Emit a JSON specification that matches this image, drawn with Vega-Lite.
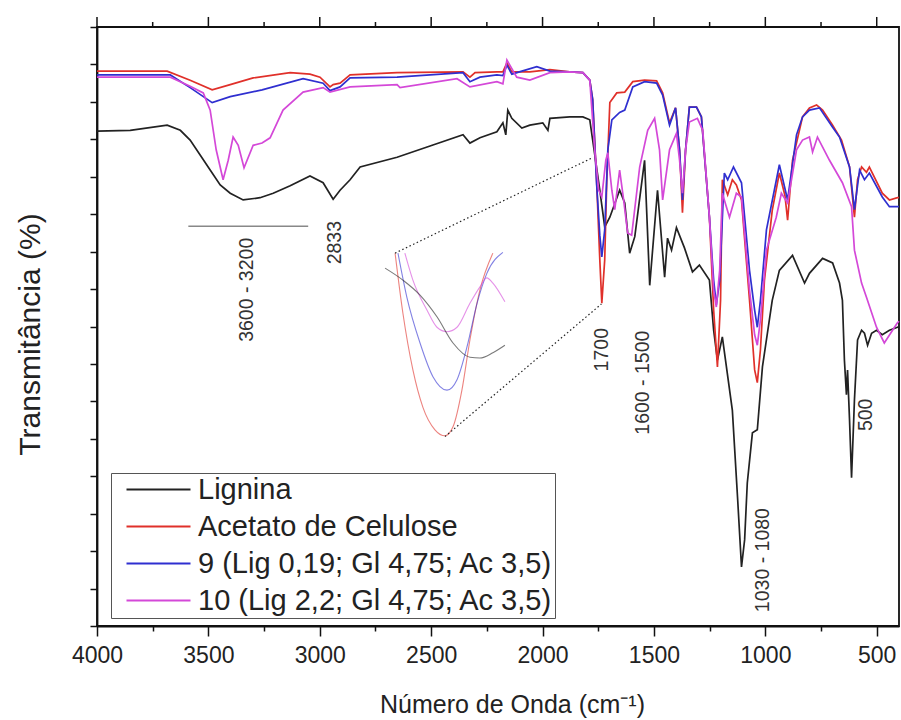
{
  "$schema": "https://vega.github.io/schema/vega-lite/v6.json",
  "width": 802,
  "height": 599,
  "autosize": {"type": "none"},
  "padding": {"left": 97, "top": 27, "right": 2, "bottom": 94},
  "background": "white",
  "config": {
    "font": "Liberation Sans",
    "view": {"stroke": "#111", "strokeWidth": 1.8},
    "axis": {"grid": false, "domainColor": "#111", "domainWidth": 1.8, "tickColor": "#111", "tickWidth": 1.5, "labelColor": "#222", "titleColor": "#222", "labelFont": "Liberation Sans", "titleFont": "Liberation Sans", "titleFontWeight": "normal"}
  },
  "datasets": {
    "lig": [
      {"w":4000,"t":66.1},{"w":3851,"t":66.2},{"w":3685,"t":66.9},{"w":3626,"t":66.2},{"w":3582,"t":64.9},{"w":3537,"t":62.9},{"w":3492,"t":60.9},{"w":3447,"t":58.9},{"w":3402,"t":57.8},{"w":3344,"t":56.9},{"w":3268,"t":57.2},{"w":3209,"t":57.8},{"w":3133,"t":58.8},{"w":3044,"t":60.1},{"w":2985,"t":59.2},{"w":2940,"t":57.0},{"w":2909,"t":58.2},{"w":2864,"t":59.6},{"w":2819,"t":61.3},{"w":2653,"t":62.6},{"w":2505,"t":64.1},{"w":2357,"t":65.6},{"w":2326,"t":64.5},{"w":2281,"t":65.2},{"w":2205,"t":66.0},{"w":2178,"t":67.2},{"w":2165,"t":65.6},{"w":2156,"t":68.9},{"w":2138,"t":67.8},{"w":2093,"t":66.5},{"w":2057,"t":66.9},{"w":1999,"t":67.2},{"w":1976,"t":66.2},{"w":1967,"t":67.8},{"w":1878,"t":68.0},{"w":1819,"t":68.0},{"w":1788,"t":67.6},{"w":1775,"t":64.9},{"w":1743,"t":58.2},{"w":1721,"t":53.3},{"w":1698,"t":54.6},{"w":1654,"t":58.2},{"w":1631,"t":56.5},{"w":1609,"t":49.8},{"w":1586,"t":52.0},{"w":1542,"t":62.2},{"w":1519,"t":45.5},{"w":1484,"t":58.2},{"w":1452,"t":46.6},{"w":1439,"t":51.8},{"w":1421,"t":50.2},{"w":1399,"t":53.2},{"w":1363,"t":50.5},{"w":1327,"t":47.3},{"w":1296,"t":48.2},{"w":1251,"t":46.2},{"w":1232,"t":39.5},{"w":1215,"t":35.5},{"w":1193,"t":38.6},{"w":1148,"t":28.8},{"w":1124,"t":16.8},{"w":1107,"t":7.9},{"w":1093,"t":11.5},{"w":1081,"t":19.1},{"w":1058,"t":25.8},{"w":1036,"t":26.2},{"w":1013,"t":34.6},{"w":969,"t":43.5},{"w":937,"t":47.5},{"w":878,"t":49.5},{"w":824,"t":45.8},{"w":802,"t":47.1},{"w":743,"t":49.1},{"w":698,"t":48.5},{"w":667,"t":45.8},{"w":654,"t":43.5},{"w":645,"t":35.5},{"w":636,"t":30.9},{"w":631,"t":34.2},{"w":622,"t":27.5},{"w":613,"t":19.8},{"w":600,"t":30.2},{"w":586,"t":38.2},{"w":568,"t":39.5},{"w":555,"t":39.1},{"w":541,"t":37.5},{"w":523,"t":39.1},{"w":501,"t":39.5},{"w":475,"t":38.9},{"w":443,"t":39.5},{"w":407,"t":39.9},{"w":400,"t":40.0}
    ],
    "ace": [
      {"w":4000,"t":74.1},{"w":3851,"t":74.1},{"w":3685,"t":74.1},{"w":3582,"t":72.9},{"w":3483,"t":71.6},{"w":3402,"t":72.3},{"w":3299,"t":73.2},{"w":3133,"t":73.9},{"w":3044,"t":73.7},{"w":2999,"t":73.3},{"w":2954,"t":72.0},{"w":2940,"t":72.3},{"w":2909,"t":72.5},{"w":2864,"t":73.6},{"w":2653,"t":73.9},{"w":2357,"t":74.0},{"w":2326,"t":73.3},{"w":2303,"t":73.9},{"w":2205,"t":74.0},{"w":2178,"t":74.0},{"w":2160,"t":75.2},{"w":2138,"t":74.0},{"w":2057,"t":74.0},{"w":1967,"t":74.3},{"w":1878,"t":74.0},{"w":1819,"t":73.9},{"w":1788,"t":72.9},{"w":1775,"t":70.3},{"w":1757,"t":59.2},{"w":1743,"t":48.9},{"w":1734,"t":43.1},{"w":1721,"t":48.9},{"w":1712,"t":59.2},{"w":1698,"t":69.9},{"w":1667,"t":71.2},{"w":1631,"t":71.3},{"w":1595,"t":72.7},{"w":1542,"t":72.9},{"w":1488,"t":72.8},{"w":1461,"t":71.2},{"w":1430,"t":67.2},{"w":1403,"t":69.2},{"w":1385,"t":63.6},{"w":1372,"t":55.2},{"w":1358,"t":63.6},{"w":1341,"t":69.3},{"w":1309,"t":69.3},{"w":1287,"t":68.0},{"w":1251,"t":54.6},{"w":1232,"t":42.2},{"w":1215,"t":34.6},{"w":1201,"t":43.5},{"w":1193,"t":59.6},{"w":1169,"t":57.6},{"w":1148,"t":59.6},{"w":1130,"t":58.9},{"w":1107,"t":56.9},{"w":1071,"t":43.5},{"w":1048,"t":34.2},{"w":1036,"t":32.5},{"w":1022,"t":36.9},{"w":1004,"t":46.2},{"w":969,"t":55.5},{"w":937,"t":60.5},{"w":912,"t":57.5},{"w":900,"t":54.2},{"w":878,"t":62.2},{"w":833,"t":68.0},{"w":802,"t":69.2},{"w":770,"t":69.6},{"w":743,"t":68.9},{"w":698,"t":66.9},{"w":658,"t":64.9},{"w":622,"t":61.3},{"w":600,"t":54.6},{"w":586,"t":59.6},{"w":568,"t":61.3},{"w":546,"t":60.6},{"w":533,"t":61.3},{"w":475,"t":57.8},{"w":443,"t":56.9},{"w":407,"t":57.2},{"w":400,"t":57.2}
    ],
    "s9": [
      {"w":4000,"t":73.6},{"w":3671,"t":73.6},{"w":3582,"t":71.9},{"w":3483,"t":69.9},{"w":3402,"t":70.7},{"w":3259,"t":71.6},{"w":3075,"t":73.1},{"w":2985,"t":72.5},{"w":2954,"t":71.5},{"w":2909,"t":72.0},{"w":2864,"t":73.2},{"w":2653,"t":73.3},{"w":2357,"t":73.9},{"w":2326,"t":72.7},{"w":2281,"t":73.3},{"w":2205,"t":73.6},{"w":2178,"t":73.5},{"w":2160,"t":74.9},{"w":2138,"t":73.7},{"w":2026,"t":74.7},{"w":1967,"t":74.1},{"w":1878,"t":74.0},{"w":1819,"t":73.9},{"w":1788,"t":72.9},{"w":1775,"t":70.3},{"w":1757,"t":58.9},{"w":1743,"t":52.2},{"w":1734,"t":49.3},{"w":1721,"t":52.9},{"w":1707,"t":63.6},{"w":1689,"t":67.6},{"w":1654,"t":68.6},{"w":1631,"t":68.9},{"w":1595,"t":72.0},{"w":1542,"t":72.7},{"w":1488,"t":72.5},{"w":1461,"t":70.9},{"w":1430,"t":66.9},{"w":1403,"t":69.2},{"w":1385,"t":63.6},{"w":1372,"t":56.9},{"w":1358,"t":63.6},{"w":1341,"t":69.3},{"w":1309,"t":69.3},{"w":1287,"t":68.0},{"w":1251,"t":54.6},{"w":1232,"t":46.2},{"w":1220,"t":42.9},{"w":1205,"t":46.2},{"w":1184,"t":60.5},{"w":1169,"t":59.6},{"w":1143,"t":61.3},{"w":1107,"t":59.2},{"w":1071,"t":47.5},{"w":1048,"t":42.2},{"w":1036,"t":39.9},{"w":1022,"t":43.5},{"w":995,"t":52.9},{"w":937,"t":61.6},{"w":900,"t":56.9},{"w":860,"t":65.6},{"w":833,"t":68.0},{"w":802,"t":68.9},{"w":757,"t":69.2},{"w":698,"t":66.6},{"w":667,"t":65.3},{"w":622,"t":61.3},{"w":600,"t":55.6},{"w":577,"t":60.9},{"w":555,"t":59.6},{"w":533,"t":60.5},{"w":475,"t":57.3},{"w":443,"t":56.0},{"w":407,"t":56.0},{"w":400,"t":56.0}
    ],
    "s10": [
      {"w":4000,"t":73.3},{"w":3671,"t":73.3},{"w":3582,"t":72.1},{"w":3523,"t":71.2},{"w":3492,"t":68.9},{"w":3465,"t":63.6},{"w":3434,"t":59.6},{"w":3411,"t":62.2},{"w":3389,"t":65.3},{"w":3366,"t":64.2},{"w":3340,"t":61.2},{"w":3299,"t":64.2},{"w":3259,"t":64.5},{"w":3223,"t":65.2},{"w":3165,"t":68.9},{"w":3075,"t":71.3},{"w":2985,"t":71.9},{"w":2954,"t":71.3},{"w":2864,"t":72.0},{"w":2653,"t":72.3},{"w":2640,"t":71.9},{"w":2384,"t":73.1},{"w":2326,"t":72.0},{"w":2205,"t":72.7},{"w":2178,"t":72.4},{"w":2160,"t":75.6},{"w":2116,"t":73.3},{"w":2057,"t":72.9},{"w":1967,"t":73.9},{"w":1878,"t":74.0},{"w":1819,"t":73.9},{"w":1788,"t":72.9},{"w":1766,"t":63.6},{"w":1748,"t":58.2},{"w":1734,"t":57.3},{"w":1716,"t":62.2},{"w":1707,"t":63.2},{"w":1689,"t":58.2},{"w":1676,"t":55.6},{"w":1654,"t":60.9},{"w":1636,"t":56.9},{"w":1618,"t":52.5},{"w":1600,"t":52.2},{"w":1564,"t":61.3},{"w":1528,"t":66.2},{"w":1497,"t":67.8},{"w":1475,"t":63.6},{"w":1461,"t":56.9},{"w":1430,"t":63.6},{"w":1399,"t":65.8},{"w":1385,"t":62.2},{"w":1372,"t":57.8},{"w":1358,"t":63.6},{"w":1341,"t":67.3},{"w":1305,"t":67.8},{"w":1281,"t":66.2},{"w":1251,"t":54.6},{"w":1232,"t":44.9},{"w":1220,"t":42.6},{"w":1205,"t":47.5},{"w":1193,"t":57.8},{"w":1161,"t":54.6},{"w":1130,"t":57.8},{"w":1107,"t":57.3},{"w":1071,"t":44.9},{"w":1048,"t":38.9},{"w":1036,"t":37.5},{"w":1022,"t":40.9},{"w":995,"t":50.2},{"w":951,"t":54.6},{"w":928,"t":57.8},{"w":900,"t":56.5},{"w":860,"t":63.6},{"w":833,"t":64.9},{"w":802,"t":65.3},{"w":788,"t":63.3},{"w":766,"t":65.3},{"w":712,"t":62.2},{"w":654,"t":59.2},{"w":613,"t":56.0},{"w":600,"t":50.2},{"w":568,"t":45.8},{"w":546,"t":43.9},{"w":501,"t":39.9},{"w":466,"t":37.8},{"w":429,"t":39.5},{"w":407,"t":40.5},{"w":400,"t":40.7}
    ],
    "inset": [
      {"s":"Acetato de Celulose","w":2662,"t":49.8},{"s":"Acetato de Celulose","w":2627,"t":41.8},{"s":"Acetato de Celulose","w":2582,"t":34.2},{"s":"Acetato de Celulose","w":2537,"t":29.2},{"s":"Acetato de Celulose","w":2483,"t":26.2},{"s":"Acetato de Celulose","w":2438,"t":25.4},{"s":"Acetato de Celulose","w":2402,"t":26.6},{"s":"Acetato de Celulose","w":2362,"t":31.5},{"s":"Acetato de Celulose","w":2326,"t":38.2},{"s":"Acetato de Celulose","w":2281,"t":44.9},{"s":"Acetato de Celulose","w":2223,"t":49.8},
      {"s":"9 (Lig 0,19; Gl 4,75; Ac 3,5)","w":2649,"t":49.8},{"s":"9 (Lig 0,19; Gl 4,75; Ac 3,5)","w":2609,"t":43.9},{"s":"9 (Lig 0,19; Gl 4,75; Ac 3,5)","w":2550,"t":37.8},{"s":"9 (Lig 0,19; Gl 4,75; Ac 3,5)","w":2492,"t":33.3},{"s":"9 (Lig 0,19; Gl 4,75; Ac 3,5)","w":2429,"t":31.5},{"s":"9 (Lig 0,19; Gl 4,75; Ac 3,5)","w":2384,"t":32.9},{"s":"9 (Lig 0,19; Gl 4,75; Ac 3,5)","w":2339,"t":37.3},{"s":"9 (Lig 0,19; Gl 4,75; Ac 3,5)","w":2294,"t":43.1},{"s":"9 (Lig 0,19; Gl 4,75; Ac 3,5)","w":2250,"t":47.1},{"s":"9 (Lig 0,19; Gl 4,75; Ac 3,5)","w":2178,"t":49.9},
      {"s":"10 (Lig 2,2; Gl 4,75; Ac 3,5)","w":2618,"t":49.8},{"s":"10 (Lig 2,2; Gl 4,75; Ac 3,5)","w":2582,"t":46.2},{"s":"10 (Lig 2,2; Gl 4,75; Ac 3,5)","w":2519,"t":42.2},{"s":"10 (Lig 2,2; Gl 4,75; Ac 3,5)","w":2474,"t":39.9},{"s":"10 (Lig 2,2; Gl 4,75; Ac 3,5)","w":2429,"t":39.3},{"s":"10 (Lig 2,2; Gl 4,75; Ac 3,5)","w":2384,"t":39.9},{"s":"10 (Lig 2,2; Gl 4,75; Ac 3,5)","w":2326,"t":43.1},{"s":"10 (Lig 2,2; Gl 4,75; Ac 3,5)","w":2281,"t":45.3},{"s":"10 (Lig 2,2; Gl 4,75; Ac 3,5)","w":2250,"t":46.5},{"s":"10 (Lig 2,2; Gl 4,75; Ac 3,5)","w":2223,"t":45.8},{"s":"10 (Lig 2,2; Gl 4,75; Ac 3,5)","w":2169,"t":43.3},
      {"s":"Lignina","w":2707,"t":47.8},{"s":"Lignina","w":2627,"t":46.2},{"s":"Lignina","w":2550,"t":44.2},{"s":"Lignina","w":2474,"t":41.3},{"s":"Lignina","w":2402,"t":37.8},{"s":"Lignina","w":2326,"t":35.9},{"s":"Lignina","w":2281,"t":35.8},{"s":"Lignina","w":2223,"t":36.5},{"s":"Lignina","w":2169,"t":37.5}
    ],
    "guides": [
      {"g":1,"w":2662,"t":49.8},{"g":1,"w":1779,"t":62.5},
      {"g":2,"w":2438,"t":25.3},{"g":2,"w":1736,"t":43.0}
    ],
    "bar": [
      {"w":3590,"t":53.4},{"w":3052,"t":53.4}
    ],
    "notes": [
      {"label":"3600 - 3200","w":3326,"t":44.9},
      {"label":"2833","w":2931,"t":51.2},
      {"label":"1700","w":1734,"t":36.9},
      {"label":"1600 - 1500","w":1550,"t":32.5},
      {"label":"1030 - 1080","w":1012,"t":8.8},
      {"label":"500","w":546,"t":28.2}
    ],
    "topticks": [
      {"k":"a","w":4000,"t":80},{"k":"a","w":4000,"t":81.34},
      {"k":"b","w":3750,"t":80},{"k":"b","w":3750,"t":80.67},
      {"k":"c","w":3500,"t":80},{"k":"c","w":3500,"t":81.34},
      {"k":"d","w":3250,"t":80},{"k":"d","w":3250,"t":80.67},
      {"k":"e","w":3000,"t":80},{"k":"e","w":3000,"t":81.34},
      {"k":"f","w":2750,"t":80},{"k":"f","w":2750,"t":80.67},
      {"k":"g","w":2500,"t":80},{"k":"g","w":2500,"t":81.34},
      {"k":"h","w":2250,"t":80},{"k":"h","w":2250,"t":80.67},
      {"k":"i","w":2000,"t":80},{"k":"i","w":2000,"t":81.34},
      {"k":"j","w":1750,"t":80},{"k":"j","w":1750,"t":80.67},
      {"k":"l","w":1500,"t":80},{"k":"l","w":1500,"t":81.34},
      {"k":"m","w":1250,"t":80},{"k":"m","w":1250,"t":80.67},
      {"k":"n","w":1000,"t":80},{"k":"n","w":1000,"t":81.34},
      {"k":"o","w":750,"t":80},{"k":"o","w":750,"t":80.67},
      {"k":"p","w":500,"t":80},{"k":"p","w":500,"t":81.34}
    ]
  },
  "encoding": {
    "x": {"field": "w", "type": "quantitative", "scale": {"domain": [4000, 400], "nice": false, "zero": false},
      "axis": {"orient": "bottom", "values": [4000,3750,3500,3250,3000,2750,2500,2250,2000,1750,1500,1250,1000,750,500], "format": "d",
        "labelExpr": "datum.value % 500 === 0 ? datum.label : ''", "labelOverlap": false, "labelFlush": false,
        "tickSize": {"condition": {"test": "datum.value % 500 === 0", "value": 10}, "value": 5},
        "labelFontSize": 23, "labelPadding": 8, "title": "Número de Onda (cm⁻¹)", "titleFontSize": 25, "titlePadding": 25, "titleX": 415}},
    "y": {"field": "t", "type": "quantitative", "scale": {"domain": [0, 80], "nice": false, "zero": false},
      "axis": {"orient": "left", "values": [0,5,10,15,20,25,30,35,40,45,50,55,60,65,70,75,80], "labels": false, "tickSize": 7,
        "title": "Transmitância (%)", "titleFontSize": 30, "titlePadding": 44, "titleY": 307}}
  },
  "layer": [
    {
      "data": {"name": "topticks"},
      "mark": {"type": "line", "strokeWidth": 1.5, "color": "#111", "clip": false},
      "encoding": {"detail": {"field": "k", "type": "nominal"}}
    },
    {
      "data": {"name": "lig"},
      "mark": {"type": "line", "strokeWidth": 1.7},
      "encoding": {
        "color": {"datum": "Lignina", "type": "nominal",
          "scale": {"domain": ["Lignina", "Acetato de Celulose", "9 (Lig 0,19; Gl 4,75; Ac 3,5)", "10 (Lig 2,2; Gl 4,75; Ac 3,5)"],
                    "range": ["#222222", "#e0302a", "#2f2fd0", "#d448d8"]},
          "legend": {"orient": "none", "legendX": 14, "legendY": 446, "title": null, "strokeColor": "#555", "fillColor": "white",
            "padding": 2, "symbolType": "M-1,0H7", "symbolSize": 256, "symbolStrokeWidth": 2, "symbolOffset": 7,
            "labelFontSize": 29, "labelColor": "#222", "labelOffset": 49, "labelLimit": 600, "rowPadding": 7, "cornerRadius": 0}}
      }
    },
    {
      "data": {"name": "ace"},
      "mark": {"type": "line", "strokeWidth": 1.7},
      "encoding": {"color": {"datum": "Acetato de Celulose", "type": "nominal"}}
    },
    {
      "data": {"name": "s9"},
      "mark": {"type": "line", "strokeWidth": 1.7},
      "encoding": {"color": {"datum": "9 (Lig 0,19; Gl 4,75; Ac 3,5)", "type": "nominal"}}
    },
    {
      "data": {"name": "s10"},
      "mark": {"type": "line", "strokeWidth": 1.7},
      "encoding": {"color": {"datum": "10 (Lig 2,2; Gl 4,75; Ac 3,5)", "type": "nominal"}}
    },
    {
      "data": {"name": "inset"},
      "mark": {"type": "line", "strokeWidth": 1.1, "opacity": 0.6, "interpolate": "monotone"},
      "encoding": {"color": {"field": "s", "type": "nominal", "legend": null}}
    },
    {
      "data": {"name": "guides"},
      "mark": {"type": "line", "strokeWidth": 1.2, "strokeDash": [1.5, 2.5], "color": "#222"},
      "encoding": {"detail": {"field": "g", "type": "nominal"}}
    },
    {
      "data": {"name": "bar"},
      "mark": {"type": "line", "strokeWidth": 1.5, "color": "#888"},
      "encoding": {}
    },
    {
      "data": {"name": "notes"},
      "mark": {"type": "text", "angle": 270, "align": "center", "baseline": "middle", "fontSize": 19.5, "color": "#333", "font": "Liberation Sans"},
      "encoding": {"text": {"field": "label", "type": "nominal"}}
    }
  ]
}
